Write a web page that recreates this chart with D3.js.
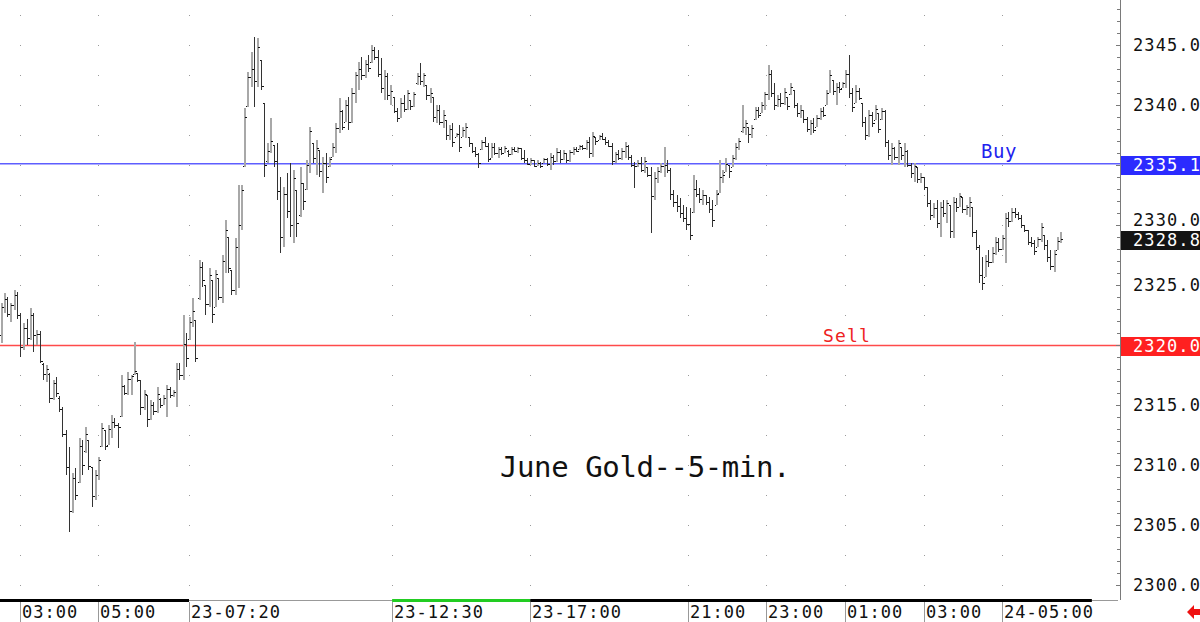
<!DOCTYPE html>
<html>
<head>
<meta charset="utf-8">
<script src="https://cdn.jsdelivr.net/npm/d3@7"></script>
<style>
  html, body { margin: 0; padding: 0; background: #fff; }
  svg { display: block; }
  text { font-family: "DejaVu Sans Mono", monospace; }
</style>
</head>
<body>
<svg id="chart" width="1200" height="622"></svg>
<script>
// June gold, 5-minute OHLC bars
const opens = [
  2320.8, 2323.2, 2323.8, 2322.6, 2323.3, 2324.2, 2322.5, 2319.8, 2321.4, 2320.6,
  2322.5, 2320.8, 2320.9, 2318.4, 2317.6, 2317.6, 2315.6, 2316.8, 2315.6, 2314.7,
  2312.6, 2309.8, 2306.2, 2308.9, 2308.6, 2311.6, 2311.2, 2312.1, 2309.8, 2307.4,
  2309.2, 2311.6, 2312.9, 2311.7, 2313.0, 2313.6, 2313.3, 2314.1, 2316.6, 2316.0,
  2317.2, 2317.6, 2317.7, 2317.1, 2314.8, 2315.8, 2313.8, 2315.0, 2314.5, 2315.5,
  2315.0, 2315.6, 2316.3, 2315.8, 2316.1, 2318.0, 2317.5, 2320.1, 2320.5, 2321.9,
  2322.1, 2323.9, 2326.5, 2325.0, 2323.4, 2325.4, 2323.2, 2325.6, 2324.0, 2327.0,
  2329.0, 2326.25, 2324.6, 2328.2, 2330.0, 2334.9, 2339.9, 2342.3, 2343.0, 2342.0,
  2343.75, 2340.2, 2335.3, 2336.2, 2336.7, 2335.3, 2332.8, 2329.0, 2332.6, 2331.2,
  2330.0, 2332.9, 2330.8, 2333.5, 2333.0, 2335.0, 2336.8, 2335.6, 2336.25, 2334.5,
  2335.2, 2334.9, 2335.7, 2336.5, 2338.1, 2339.5, 2338.6, 2340.0, 2338.6, 2341.0,
  2342.5, 2343.0, 2342.5, 2343.4, 2343.6, 2344.6, 2344.0, 2342.6, 2341.4, 2342.4,
  2340.8, 2340.7, 2339.5, 2338.9, 2340.2, 2339.7, 2340.4, 2339.9, 2341.8, 2342.4,
  2342.0, 2341.7, 2340.8, 2340.7, 2339.0, 2339.6, 2338.6, 2338.75, 2337.5, 2338.0,
  2337.3, 2337.6, 2337.3, 2337.9, 2337.3, 2336.8, 2336.2, 2335.9, 2336.3, 2336.9,
  2336.6, 2335.6, 2336.5, 2336.0, 2336.3, 2336.0, 2336.2, 2335.9, 2336.3, 2336.2,
  2336.4, 2335.6, 2335.4, 2335.1, 2335.4, 2334.9, 2335.2, 2335.2, 2335.5, 2335.1,
  2335.7, 2335.3, 2336.1, 2335.5, 2336.0, 2335.4, 2336.1, 2336.3, 2336.3, 2336.6,
  2336.4, 2336.9, 2336.0, 2337.3, 2337.1, 2337.4, 2337.2, 2336.9, 2336.6, 2335.3,
  2335.9, 2335.6, 2336.2, 2336.6, 2335.7, 2335.0, 2334.9, 2335.2, 2334.6, 2334.8,
  2334.2, 2332.4, 2333.9, 2334.5, 2334.9, 2335.0, 2334.6, 2332.6, 2331.9, 2331.6,
  2331.0, 2330.6, 2330.1, 2331.1, 2333.0, 2332.6, 2332.2, 2332.5, 2331.9, 2331.3,
  2331.7, 2332.7, 2334.0, 2334.4, 2335.0, 2334.8, 2335.6, 2336.5, 2337.8, 2338.2,
  2338.2, 2337.6, 2338.8, 2339.6, 2339.3, 2340.0, 2340.9, 2342.6, 2341.0, 2340.0,
  2340.5, 2340.2, 2340.7, 2340.9, 2341.25, 2340.0, 2339.3, 2339.6, 2338.8, 2338.0,
  2338.5, 2338.2, 2338.9, 2339.5, 2340.0, 2341.0, 2342.1, 2341.2, 2341.5, 2341.4,
  2341.8, 2342.6, 2341.0, 2340.2, 2341.2, 2340.2, 2338.6, 2337.5, 2339.2, 2338.75,
  2339.3, 2338.8, 2339.5, 2336.9, 2335.8, 2336.4, 2335.7, 2336.5, 2335.8, 2336.2,
  2335.0, 2334.3, 2334.8, 2333.8, 2334.0, 2333.2, 2331.8, 2330.8, 2331.4, 2330.2,
  2331.5, 2331.0, 2331.7, 2329.5, 2331.9, 2331.5, 2332.3, 2331.3, 2331.5, 2331.5,
  2329.4, 2328.2, 2325.8, 2325.7, 2327.0, 2326.9, 2327.7, 2328.6, 2328.0, 2328.9,
  2330.6, 2330.3, 2331.1, 2330.9, 2330.6, 2330.0, 2329.6, 2328.6, 2328.5, 2328.2,
  2328.8, 2329.2, 2328.3, 2327.3, 2326.6, 2327.9, 2328.7
]
const highs = [
  2323.5, 2324.3, 2324.0, 2323.5, 2324.6, 2324.4, 2322.7, 2321.8, 2322.2, 2323.1,
  2322.7, 2321.25, 2321.2, 2318.5, 2318.3, 2317.7, 2317.1, 2317.3, 2315.75, 2314.8,
  2312.9, 2311.5, 2309.3, 2309.75, 2312.25, 2312.1, 2313.2, 2312.1, 2309.8, 2309.6,
  2310.7, 2313.5, 2312.9, 2313.3, 2314.2, 2313.9, 2313.5, 2317.5, 2316.7, 2317.75,
  2317.5, 2320.25, 2317.7, 2317.1, 2316.25, 2315.8, 2315.4, 2315.25, 2316.5, 2315.6,
  2315.8, 2316.7, 2316.5, 2316.25, 2318.5, 2318.5, 2322.5, 2321.0, 2322.3, 2323.9,
  2322.1, 2327.1, 2326.9, 2325.0, 2326.4, 2325.4, 2326.25, 2325.6, 2327.5, 2330.4,
  2329.0, 2326.25, 2328.9, 2333.3, 2333.3, 2339.75, 2342.75, 2344.4, 2345.7, 2345.6,
  2343.75, 2340.2, 2336.8, 2338.9, 2336.7, 2336.8, 2334.0, 2333.2, 2334.3, 2335.2,
  2334.6, 2332.9, 2334.8, 2333.5, 2335.4, 2338.2, 2336.8, 2337.1, 2336.25, 2335.7,
  2336.0, 2335.7, 2336.8, 2338.5, 2340.6, 2339.6, 2340.4, 2340.7, 2341.4, 2342.75,
  2343.6, 2344.0, 2343.75, 2344.2, 2345.0, 2344.8, 2344.6, 2343.9, 2342.9, 2342.7,
  2341.7, 2340.7, 2339.75, 2340.6, 2340.8, 2341.25, 2340.4, 2341.1, 2342.7, 2343.5,
  2342.7, 2341.7, 2341.4, 2340.7, 2340.0, 2340.0, 2339.6, 2338.75, 2338.3, 2338.5,
  2337.7, 2338.3, 2338.2, 2338.5, 2337.3, 2336.8, 2336.5, 2336.0, 2337.1, 2337.3,
  2336.8, 2336.8, 2336.8, 2336.5, 2336.5, 2336.6, 2336.25, 2336.5, 2336.5, 2336.5,
  2336.4, 2336.25, 2335.6, 2335.6, 2335.4, 2335.4, 2335.25, 2335.6, 2335.6, 2336.0,
  2335.8, 2336.4, 2336.25, 2336.25, 2336.0, 2336.25, 2336.5, 2336.5, 2336.7, 2336.7,
  2337.1, 2337.3, 2337.75, 2337.3, 2337.5, 2337.7, 2337.3, 2337.1, 2336.8, 2336.1,
  2336.25, 2336.4, 2336.9, 2336.7, 2335.8, 2335.25, 2335.4, 2335.7, 2335.7, 2334.8,
  2334.8, 2334.4, 2334.8, 2335.2, 2336.5, 2335.4, 2334.75, 2332.9, 2332.5, 2332.25,
  2331.7, 2331.5, 2331.4, 2334.2, 2333.75, 2333.1, 2332.9, 2332.5, 2332.3, 2332.1,
  2332.9, 2335.4, 2334.6, 2335.6, 2335.0, 2335.8, 2336.8, 2337.25, 2340.0, 2338.75,
  2338.2, 2338.3, 2339.8, 2339.8, 2340.25, 2341.1, 2343.3, 2342.9, 2341.8, 2340.8,
  2341.0, 2341.4, 2340.7, 2341.8, 2341.25, 2340.2, 2340.0, 2339.6, 2339.0, 2338.75,
  2338.9, 2339.2, 2339.75, 2339.8, 2341.25, 2342.9, 2342.1, 2341.8, 2341.9, 2341.9,
  2342.9, 2344.2, 2341.4, 2341.7, 2341.4, 2340.2, 2339.0, 2339.6, 2339.4, 2340.0,
  2339.3, 2339.75, 2339.6, 2337.1, 2336.8, 2336.5, 2337.1, 2336.5, 2336.8, 2336.25,
  2335.2, 2335.2, 2334.8, 2334.3, 2334.0, 2333.2, 2332.1, 2331.8, 2332.1, 2331.9,
  2332.1, 2332.1, 2331.7, 2332.3, 2332.25, 2332.7, 2332.3, 2331.7, 2332.3, 2331.5,
  2329.6, 2328.3, 2327.3, 2327.5, 2327.9, 2328.2, 2329.0, 2328.9, 2329.2, 2331.0,
  2331.1, 2331.4, 2331.4, 2331.1, 2330.8, 2330.0, 2329.6, 2329.0, 2328.75, 2329.0,
  2330.2, 2329.2, 2328.75, 2327.9, 2327.9, 2329.0, 2329.4
]
const lows = [
  2320.2, 2322.7, 2322.3, 2321.9, 2322.9, 2322.2, 2319.0, 2319.6, 2320.0, 2320.4,
  2319.4, 2320.0, 2318.5, 2317.1, 2316.9, 2315.2, 2315.4, 2315.7, 2314.4, 2312.3,
  2309.2, 2304.4, 2306.0, 2307.1, 2308.5, 2309.2, 2311.0, 2309.6, 2306.5, 2307.1,
  2308.75, 2311.5, 2311.25, 2311.7, 2312.25, 2313.1, 2311.4, 2314.0, 2315.8, 2315.8,
  2315.8, 2317.5, 2316.9, 2314.2, 2314.6, 2313.2, 2313.75, 2314.2, 2314.3, 2314.75,
  2315.0, 2314.0, 2315.6, 2315.7, 2314.8, 2317.1, 2317.1, 2318.2, 2320.4, 2321.5,
  2318.6, 2323.75, 2324.8, 2322.5, 2323.2, 2321.8, 2323.2, 2323.75, 2323.5, 2326.0,
  2326.0, 2324.2, 2324.2, 2324.75, 2329.6, 2334.8, 2339.8, 2341.5, 2339.8, 2341.5,
  2341.25, 2334.0, 2335.2, 2336.0, 2334.8, 2332.1, 2327.7, 2328.2, 2330.6, 2329.0,
  2328.5, 2329.0, 2330.7, 2331.25, 2332.9, 2334.3, 2335.2, 2334.2, 2334.0, 2332.7,
  2333.5, 2334.8, 2335.7, 2336.0, 2337.7, 2337.9, 2338.6, 2337.9, 2338.5, 2340.2,
  2341.25, 2342.1, 2342.25, 2342.75, 2343.5, 2343.75, 2342.3, 2341.0, 2340.4, 2340.4,
  2340.0, 2339.3, 2338.6, 2338.9, 2339.4, 2339.6, 2339.6, 2339.8, 2341.7, 2341.7,
  2341.5, 2340.4, 2340.2, 2338.6, 2338.5, 2338.3, 2338.1, 2337.1, 2337.1, 2336.5,
  2337.3, 2336.1, 2337.3, 2337.25, 2336.5, 2336.0, 2335.7, 2334.75, 2336.25, 2336.5,
  2335.25, 2335.6, 2335.8, 2335.6, 2335.8, 2336.0, 2335.7, 2335.8, 2336.1, 2336.0,
  2335.4, 2335.2, 2335.0, 2335.0, 2334.8, 2334.9, 2334.75, 2335.2, 2334.9, 2334.6,
  2335.0, 2335.25, 2335.2, 2335.4, 2335.2, 2335.25, 2335.8, 2336.1, 2336.25, 2336.25,
  2336.25, 2335.6, 2335.7, 2336.7, 2337.1, 2337.1, 2336.7, 2336.5, 2335.0, 2335.2,
  2335.4, 2335.4, 2335.6, 2335.4, 2334.8, 2333.1, 2334.8, 2334.4, 2334.3, 2334.0,
  2329.3, 2332.1, 2333.5, 2334.3, 2334.0, 2334.3, 2332.1, 2331.5, 2331.1, 2330.6,
  2330.25, 2329.6, 2328.75, 2331.0, 2332.3, 2331.8, 2331.7, 2331.7, 2331.0, 2329.8,
  2331.7, 2332.7, 2333.5, 2334.4, 2333.9, 2334.8, 2335.4, 2336.25, 2337.7, 2337.5,
  2336.8, 2337.25, 2338.75, 2338.9, 2339.3, 2339.6, 2340.4, 2340.7, 2339.6, 2339.8,
  2339.8, 2340.0, 2339.6, 2340.8, 2339.75, 2339.0, 2338.9, 2338.5, 2337.75, 2337.5,
  2337.7, 2338.2, 2338.75, 2339.0, 2340.0, 2341.0, 2340.8, 2340.0, 2341.0, 2341.4,
  2341.4, 2340.6, 2339.4, 2340.2, 2340.4, 2338.2, 2337.1, 2337.3, 2338.2, 2338.75,
  2337.7, 2338.75, 2336.5, 2335.4, 2335.0, 2335.4, 2335.0, 2335.4, 2334.8, 2334.8,
  2333.9, 2333.6, 2333.5, 2333.5, 2332.9, 2331.5, 2330.4, 2330.6, 2329.75, 2329.0,
  2330.7, 2330.2, 2328.9, 2328.9, 2331.1, 2331.5, 2331.0, 2330.8, 2330.7, 2329.0,
  2327.9, 2325.2, 2324.6, 2325.7, 2326.5, 2326.8, 2327.5, 2327.75, 2327.9, 2326.8,
  2329.8, 2330.25, 2330.6, 2330.4, 2329.75, 2329.4, 2328.3, 2328.2, 2327.5, 2328.2,
  2328.6, 2327.9, 2326.9, 2326.25, 2326.1, 2327.9, 2328.5
]
const closes = [
  2323.2, 2323.8, 2322.6, 2323.3, 2324.2, 2322.5, 2319.8, 2321.4, 2320.6, 2322.5,
  2320.8, 2320.9, 2318.7, 2317.6, 2318.0, 2315.6, 2316.8, 2316.0, 2314.7, 2312.6,
  2309.8, 2306.2, 2308.9, 2307.5, 2311.6, 2310.0, 2312.6, 2309.9, 2307.4, 2309.2,
  2310.4, 2313.1, 2311.6, 2313.0, 2313.6, 2313.3, 2313.2, 2316.6, 2316.0, 2317.2,
  2317.4, 2317.8, 2317.1, 2314.8, 2315.9, 2313.8, 2315.0, 2314.5, 2315.9, 2315.0,
  2315.6, 2316.3, 2315.8, 2316.1, 2318.0, 2317.5, 2320.1, 2318.9, 2321.9, 2322.8,
  2318.9, 2326.5, 2325.4, 2323.4, 2325.8, 2322.6, 2325.9, 2324.0, 2327.0, 2329.6,
  2326.4, 2324.6, 2328.2, 2330.0, 2332.9, 2339.0, 2342.3, 2343.0, 2342.0, 2344.8,
  2341.6, 2335.0, 2336.2, 2337.0, 2335.3, 2332.8, 2329.0, 2332.6, 2331.2, 2330.0,
  2333.9, 2330.2, 2333.5, 2332.0, 2335.0, 2337.8, 2335.6, 2336.4, 2334.5, 2335.2,
  2334.0, 2335.5, 2336.5, 2338.1, 2339.5, 2338.2, 2340.0, 2338.6, 2341.0, 2342.5,
  2343.0, 2342.5, 2343.4, 2343.1, 2344.6, 2344.0, 2342.6, 2341.4, 2342.4, 2340.8,
  2341.2, 2339.5, 2338.9, 2340.2, 2339.7, 2341.0, 2339.9, 2340.9, 2342.4, 2342.0,
  2342.5, 2340.8, 2341.0, 2339.0, 2339.6, 2338.6, 2339.2, 2337.5, 2338.0, 2336.9,
  2337.6, 2336.5, 2337.9, 2338.2, 2336.8, 2336.2, 2335.9, 2335.2, 2336.9, 2336.6,
  2335.5, 2336.5, 2336.0, 2336.3, 2336.0, 2336.4, 2335.9, 2336.3, 2336.2, 2336.4,
  2335.6, 2335.4, 2335.1, 2335.4, 2334.9, 2335.2, 2334.9, 2335.5, 2335.1, 2335.7,
  2335.3, 2336.1, 2335.5, 2336.0, 2335.4, 2336.1, 2336.3, 2336.2, 2336.6, 2336.4,
  2336.9, 2336.0, 2337.4, 2337.0, 2337.4, 2337.2, 2336.9, 2336.6, 2335.3, 2335.9,
  2335.6, 2336.2, 2336.6, 2335.7, 2335.0, 2334.9, 2335.2, 2334.6, 2335.3, 2334.2,
  2332.4, 2333.9, 2334.5, 2334.9, 2335.0, 2334.6, 2332.6, 2331.9, 2331.6, 2331.0,
  2330.6, 2330.1, 2329.2, 2333.0, 2332.6, 2332.2, 2332.5, 2331.9, 2331.3, 2330.4,
  2332.6, 2334.0, 2334.2, 2335.1, 2334.5, 2335.6, 2336.5, 2337.0, 2338.2, 2338.5,
  2337.6, 2338.1, 2339.6, 2339.2, 2340.0, 2340.9, 2342.6, 2341.0, 2340.0, 2340.5,
  2340.2, 2341.1, 2339.9, 2341.5, 2340.0, 2339.3, 2339.6, 2338.8, 2338.0, 2338.5,
  2337.9, 2338.9, 2339.5, 2339.2, 2341.0, 2342.5, 2341.2, 2341.5, 2341.3, 2341.8,
  2342.6, 2341.0, 2339.8, 2341.2, 2340.6, 2338.6, 2337.5, 2339.2, 2338.5, 2339.7,
  2338.0, 2339.5, 2336.9, 2335.8, 2336.4, 2335.7, 2336.8, 2335.8, 2336.2, 2335.0,
  2334.3, 2334.9, 2333.8, 2334.0, 2333.2, 2331.8, 2330.8, 2331.4, 2330.2, 2331.5,
  2331.0, 2331.8, 2329.5, 2331.9, 2331.5, 2332.4, 2331.3, 2331.5, 2331.9, 2329.4,
  2328.2, 2325.8, 2325.2, 2327.0, 2326.9, 2327.7, 2328.6, 2328.0, 2328.9, 2330.6,
  2330.3, 2331.1, 2330.9, 2330.6, 2330.0, 2329.6, 2328.6, 2328.5, 2327.8, 2328.8,
  2329.8, 2328.3, 2327.3, 2326.6, 2327.6, 2328.7, 2328.8
]

// time axis labels and the bar index where each one starts
const timeLabels = ['03:00', '05:00', '23-07:20', '23-12:30', '23-17:00', '21:00', '23:00', '01:00', '03:00', '24-05:00']
const timeLabelBars = [6, 30, 58, 120.5, 163, 211.5, 235.5, 260, 284, 308]
const priceTicks = [2300, 2305, 2310, 2315, 2320, 2325, 2330, 2335, 2340, 2345]

const buyLevel = 2335.1
const sellLevel = 2320.0
const lastPrice = 2328.8

// session strips along the bottom edge (bar index ranges)
const sessionFrom = [-2, 58, 120.5, 163]
const sessionTo = [58, 120.5, 163, 335.8]
const sessionKind = ['black', 'none', 'green', 'black']

const width = 1200
const height = 622
const plotRight = 1120
const plotBottom = 600

const svg = d3.select('#chart')

const xScale = d3.scaleLinear()
  .domain([0, opens.length - 1])
  .range([0.5, 1060])

const yScale = d3.scaleLinear()
  .domain([2300, 2345])
  .range([585, 45])

const bars = opens.map((o, i) => ({o: o, h: highs[i], l: lows[i], c: closes[i], i: i}))

// grid dots at every 2.5 on each time label column
const gridLevels = d3.range(2300, 2350, 2.5)
const dots = []
timeLabelBars.forEach(b => gridLevels.forEach(p => dots.push({b: b, p: p})))
svg.append('g')
  .selectAll('rect')
  .data(dots)
  .enter()
  .append('rect')
  .attr('x', d => Math.round(xScale(d.b)))
  .attr('y', d => Math.round(yScale(d.p)))
  .attr('width', 1)
  .attr('height', 1)
  .attr('fill', '#9a9a9a')

// buy / sell lines
const levelG = svg.append('g')
levelG.append('line')
  .attr('x1', 0).attr('x2', plotRight)
  .attr('y1', yScale(buyLevel))
  .attr('y2', yScale(buyLevel))
  .attr('stroke', '#5e5eff')
  .attr('stroke-width', 1.5)

levelG.append('line')
  .attr('x1', 0).attr('x2', plotRight)
  .attr('y1', yScale(sellLevel) + 0.5)
  .attr('y2', yScale(sellLevel) + 0.5)
  .attr('stroke', '#ff4a4a')
  .attr('stroke-width', 1.5)

// OHLC bars: light grey for up bars, dark for down bars
const upColor = '#a8a8a8'
const downColor = '#333'
const barG = svg.append('g').attr('shape-rendering', 'crispEdges')
const bar = barG.selectAll('g')
  .data(bars)
  .enter()
  .append('g')

bar.append('line')
  .attr('x1', d => Math.round(xScale(d.i)) + (d.c >= d.o ? 1 : 0.5))
  .attr('x2', d => Math.round(xScale(d.i)) + (d.c >= d.o ? 1 : 0.5))
  .attr('y1', d => yScale(d.h))
  .attr('y2', d => yScale(d.l))
  .attr('stroke', d => d.c >= d.o ? upColor : downColor)
  .attr('stroke-width', d => d.c >= d.o ? 2 : 1.2)

bar.append('rect')
  .attr('x', d => Math.round(xScale(d.i)) - 1)
  .attr('y', d => Math.round(yScale(d.o)))
  .attr('width', 1)
  .attr('height', 1)
  .attr('fill', '#111')

bar.append('rect')
  .attr('x', d => Math.round(xScale(d.i)) + 1)
  .attr('y', d => Math.round(yScale(d.c)))
  .attr('width', 1.5)
  .attr('height', 1)
  .attr('fill', '#111')

// right price axis
const axisG = svg.append('g')
axisG.append('line')
  .attr('x1', plotRight + 0.5).attr('x2', plotRight + 0.5)
  .attr('y1', 0).attr('y2', plotBottom)
  .attr('stroke', '#7a7a7a')

const minorLevels = d3.range(2300, 2350, 1)
axisG.selectAll('.minor')
  .data(minorLevels)
  .enter()
  .append('line')
  .attr('class', 'minor')
  .attr('x1', d => d % 5 === 0 ? plotRight - 4 : plotRight - 3)
  .attr('x2', plotRight)
  .attr('y1', d => Math.round(yScale(d)) + 0.5)
  .attr('y2', d => Math.round(yScale(d)) + 0.5)
  .attr('stroke', '#7a7a7a')

// a tick label sitting just above the last-price box is nudged up so it stays readable
axisG.selectAll('.plabel')
  .data(priceTicks)
  .enter()
  .append('text')
  .attr('class', 'plabel')
  .attr('x', 1133)
  .attr('y', d => {
    const gap = d - lastPrice
    return yScale(d) + 6 - (gap > 0 && gap < 2 ? 5 : 0)
  })
  .attr('font-size', 17)
  .attr('letter-spacing', 1.1)
  .attr('fill', '#111')
  .text(d => d3.format('.1f')(d))

// highlighted price boxes
const boxes = [
  {p: buyLevel, fill: '#2b2bff'},
  {p: lastPrice, fill: '#141414'},
  {p: sellLevel, fill: '#ff2020'}
]
const box = axisG.selectAll('.pbox')
  .data(boxes)
  .enter()
  .append('g')
  .attr('class', 'pbox')

box.append('rect')
  .attr('x', plotRight + 1)
  .attr('y', d => Math.round(yScale(d.p)) - 8)
  .attr('width', width - plotRight)
  .attr('height', 19)
  .attr('fill', d => d.fill)

box.append('text')
  .attr('x', 1133)
  .attr('y', d => yScale(d.p) + 7)
  .attr('font-size', 17)
  .attr('letter-spacing', 1.1)
  .attr('fill', '#fff')
  .text(d => d3.format('.1f')(d.p))

// bottom time axis
const bottomG = svg.append('g')
bottomG.append('line')
  .attr('x1', 0).attr('x2', plotRight - 2)
  .attr('y1', plotBottom + 0.5).attr('y2', plotBottom + 0.5)
  .attr('stroke', '#999')

sessionFrom.forEach((f, k) => {
  if (sessionKind[k] === 'none') return
  bottomG.append('rect')
    .attr('x', Math.max(0, xScale(f)))
    .attr('y', plotBottom - 1)
    .attr('width', xScale(sessionTo[k]) - Math.max(0, xScale(f)))
    .attr('height', 3)
    .attr('fill', sessionKind[k] === 'green' ? '#22cc22' : '#000')
})

bottomG.selectAll('.sep')
  .data(timeLabelBars)
  .enter()
  .append('line')
  .attr('class', 'sep')
  .attr('x1', d => Math.round(xScale(d)) + 0.5)
  .attr('x2', d => Math.round(xScale(d)) + 0.5)
  .attr('y1', plotBottom + 2)
  .attr('y2', height)
  .attr('stroke', '#999')

bottomG.selectAll('.tlabel')
  .data(timeLabels)
  .enter()
  .append('text')
  .attr('class', 'tlabel')
  .attr('x', (d, i) => Math.round(xScale(timeLabelBars[i])) + 2)
  .attr('y', 618)
  .attr('font-size', 17)
  .attr('letter-spacing', 1)
  .attr('fill', '#111')
  .text(d => d)

// red arrow in the corner
svg.append('path')
  .attr('d', 'M1187,612 L1194,605 L1194,609 L1200,609 L1200,615 L1194,615 L1194,619 Z')
  .attr('fill', '#ee1111')

// annotations
svg.append('text')
  .attr('x', 981)
  .attr('y', yScale(buyLevel) - 6)
  .attr('font-size', 19)
  .attr('letter-spacing', 0.5)
  .attr('fill', '#2222ee')
  .text('Buy')

svg.append('text')
  .attr('x', 823)
  .attr('y', yScale(sellLevel) - 3)
  .attr('font-size', 18)
  .attr('letter-spacing', 1.2)
  .attr('fill', '#ee2222')
  .text('Sell')

svg.append('text')
  .attr('x', 500)
  .attr('y', 477)
  .attr('font-size', 29)
  .attr('letter-spacing', -0.4)
  .attr('fill', '#111')
  .text('June Gold--5-min.')
</script>
</body>
</html>
